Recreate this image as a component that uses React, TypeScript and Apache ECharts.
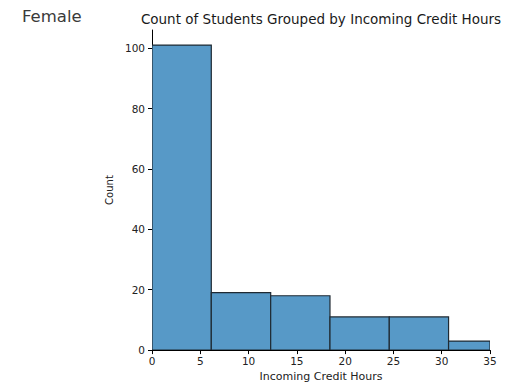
import React, { useEffect, useRef } from "react";
import * as echarts from "echarts";

const binStarts = [0, 6.14, 12.29, 18.43, 24.57, 30.71];
const binEnds = [6.14, 12.29, 18.43, 24.57, 30.71, 36.86];
const counts = [101, 19, 18, 11, 11, 3];
const xTicks = [0, 5, 10, 15, 20, 25, 30, 35];
const yTicks = [0, 20, 40, 60, 80, 100];

export default function App() {
  const ref = useRef<HTMLDivElement>(null);
  useEffect(() => {
    const chart = echarts.init(ref.current!, null, { renderer: "svg" });
    const font = "DejaVu Sans";
    const data = counts.map((c, i) => [binStarts[i], binEnds[i], c]);
    chart.setOption({
      animation: false,
      backgroundColor: "#ffffff",
      textStyle: { fontFamily: font },
      title: [
        {
          text: "Female",
          left: 22,
          top: 8,
          padding: 0,
          textStyle: { fontFamily: font, fontSize: 16.5, fontWeight: "normal", color: "#3a3a3a" },
        },
        {
          text: "Count of Students Grouped by Incoming Credit Hours",
          left: 321,
          textAlign: "center",
          top: 12,
          padding: 0,
          textStyle: { fontFamily: font, fontSize: 13.5, fontWeight: "normal", color: "#1a1a1a" },
        },
      ],
      grid: { left: 152, right: 21, top: 30, bottom: 35, containLabel: false },
      xAxis: {
        type: "value",
        min: 0,
        max: 35,
        interval: 5,
        name: "Incoming Credit Hours",
        nameLocation: "middle",
        nameGap: 20,
        nameTextStyle: { fontFamily: font, fontSize: 11, color: "#222222" },
        axisLine: { show: true, onZero: false, lineStyle: { color: "#000000", width: 1 } },
        axisTick: { show: true, length: 4, lineStyle: { color: "#000000" }, customValues: xTicks },
        axisLabel: { fontFamily: font, fontSize: 10.5, color: "#222222", margin: 5, customValues: xTicks },
        splitLine: { show: false },
      },
      yAxis: {
        type: "value",
        min: 0,
        max: 106,
        interval: 20,
        name: "Count",
        nameLocation: "middle",
        nameGap: 32,
        nameTextStyle: { fontFamily: font, fontSize: 10, color: "#222222" },
        axisLine: { show: true, lineStyle: { color: "#000000", width: 1 } },
        axisTick: { show: true, length: 4, lineStyle: { color: "#000000" }, customValues: yTicks },
        axisLabel: { fontFamily: font, fontSize: 10.5, color: "#222222", margin: 7, customValues: yTicks },
        splitLine: { show: false },
      },
      series: [
        {
          type: "custom",
          clip: true,
          data,
          encode: { x: [0, 1], y: 2 },
          renderItem: (params: any, api: any) => {
            const p0 = api.coord([api.value(0), 0]);
            const p1 = api.coord([api.value(1), api.value(2)]);
            const cs = params.coordSys;
            const rect = echarts.graphic.clipRectByRect(
              { x: p0[0], y: p1[1], width: p1[0] - p0[0], height: p0[1] - p1[1] },
              { x: cs.x, y: cs.y, width: cs.width, height: cs.height }
            );
            if (!rect) return null;
            return {
              type: "rect",
              shape: rect,
              style: { fill: "#5799c7", stroke: "#1f2a33", lineWidth: 1.2 },
            };
          },
        },
      ],
    });
    return () => chart.dispose();
  }, []);
  return <div ref={ref} style={{ position: "fixed", left: 0, top: 0, width: 511, height: 387 }} />;
}
